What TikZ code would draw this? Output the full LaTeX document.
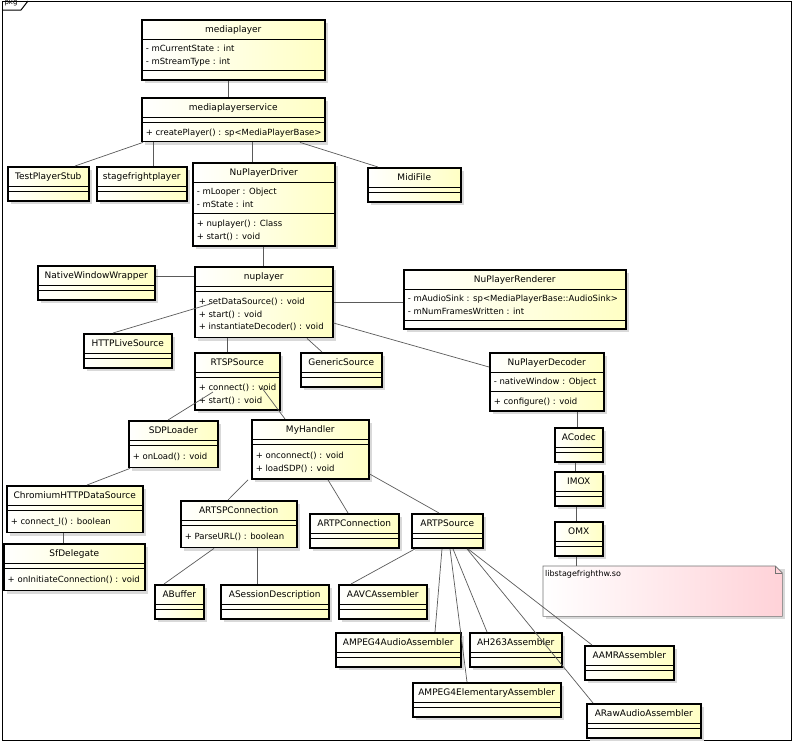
\documentclass[tikz,border=0pt]{standalone}
\usepackage{fontspec}
\setmainfont{DejaVu Sans}
\usepackage{tikz}
\usetikzlibrary{calc,shadows}
\definecolor{clsyellow}{HTML}{FFFFC4}
\definecolor{notepink}{HTML}{FFD2D8}
\definecolor{linkgray}{HTML}{5A5A5A}

% class compartments
\newcommand{\cbox}[2]{\vbox{\hsize=#1pt\offinterlineskip#2}}
\newcommand{\ctitle}[1]{\hbox to\hsize{\hss\fontsize{9}{10}\selectfont\rule[-6pt]{0pt}{19pt}#1\hss}}
\newcommand{\csep}{\hrule height .7pt}
\newcommand{\cgap}[1]{\kern#1pt}
\newcommand{\citem}[1]{\hbox to\hsize{\hspace{4pt}\rule[-3pt]{0pt}{12.5pt}#1\hss}}
\newcommand{\plainclass}[1]{\ctitle{#1}\csep\cgap{5}\csep\cgap{9}}

\begin{document}
\begin{tikzpicture}[
  x=1pt, y=-1pt,
  cls/.style={draw=black, line width=1.5pt, left color=white, right color=clsyellow,
              inner sep=0pt, anchor=north west, font=\fontsize{8.5}{10}\selectfont,
              drop shadow={shadow xshift=3pt, shadow yshift=-3pt, fill=black!15, opacity=1}},
  link/.style={draw=linkgray, line width=.7pt},
  notebox/.style={anchor=north west, minimum width=239pt, minimum height=50pt, inner sep=0pt},
  notetext/.style={anchor=north west, inner sep=1pt, font=\fontsize{8}{10}\selectfont},
  frame/.style={draw=black, line width=1pt}
]
\useasboundingbox (0,0) rectangle (796,742);
% package frame
\draw[frame] (2,1) rectangle (791,740);
\draw[frame] (2,10) -- (21,10) -- (28,1);
\node[inner sep=0pt, font=\fontsize{7}{8}\selectfont] (pkg) at (11,2.5) {pkg};

% classes
\node[cls] (mp) at (141,19) {\cbox{183}{\ctitle{mediaplayer}\csep\cgap{3}\citem{- mCurrentState : int}\citem{- mStreamType : int}\cgap{3}\csep\cgap{9}}};
\node[cls] (mps) at (141,97) {\cbox{183}{\ctitle{mediaplayerservice}\csep\cgap{5}\csep\cgap{3}\citem{+ createPlayer() : sp<MediaPlayerBase>}\cgap{3}}};
\node[cls] (tps) at (7,166) {\cbox{81}{\plainclass{TestPlayerStub}}};
\node[cls] (sfp) at (96,166) {\cbox{90}{\plainclass{stagefrightplayer}}};
\node[cls] (npd) at (192,162) {\cbox{142}{\ctitle{NuPlayerDriver}\csep\cgap{3}\citem{- mLooper : Object}\citem{- mState : int}\cgap{3}\csep\cgap{3}\citem{+ nuplayer() : Class}\citem{+ start() : void}\cgap{4}}};
\node[cls] (midi) at (367,167) {\cbox{93}{\plainclass{MidiFile}}};
\node[cls] (nww) at (37,265) {\cbox{117}{\plainclass{NativeWindowWrapper}}};
\node[cls] (np) at (194,266) {\cbox{138}{\ctitle{nuplayer}\csep\cgap{5}\csep\cgap{3}\citem{+ setDataSource() : void}\citem{+ start() : void}\citem{+ instantiateDecoder() : void}\cgap{5}}};
\node[cls] (npr) at (403,269) {\cbox{222}{\ctitle{NuPlayerRenderer}\csep\cgap{3}\citem{- mAudioSink : sp<MediaPlayerBase::AudioSink>}\citem{- mNumFramesWritten : int}\cgap{3}\csep\cgap{8}}};
\node[cls] (hls) at (83,333) {\cbox{88}{\plainclass{HTTPLiveSource}}};
\node[cls] (rtsp) at (194,352) {\cbox{85}{\ctitle{RTSPSource}\csep\cgap{5}\csep\cgap{3}\citem{+ connect() : void}\citem{+ start() : void}\cgap{4}}};
\node[cls] (gen) at (300,352) {\cbox{81}{\plainclass{GenericSource}}};
\node[cls] (npdec) at (489,352) {\cbox{114}{\ctitle{NuPlayerDecoder}\csep\cgap{3}\citem{- nativeWindow : Object}\cgap{3}\csep\cgap{3}\citem{+ configure() : void}\cgap{4}}};
\node[cls] (acodec) at (554,427) {\cbox{48}{\plainclass{ACodec}}};
\node[cls] (imox) at (554,471) {\cbox{48}{\plainclass{IMOX}}};
\node[cls] (omx) at (554,521) {\cbox{48}{\plainclass{OMX}}};
\node[cls] (sdp) at (128,420) {\cbox{89}{\ctitle{SDPLoader}\csep\cgap{5}\csep\cgap{4}\citem{+ onLoad() : void}\cgap{5}}};
\node[cls] (mh) at (251,419) {\cbox{117}{\ctitle{MyHandler}\csep\cgap{5}\csep\cgap{4}\citem{+ onconnect() : void}\citem{+ loadSDP() : void}\cgap{5}}};
\node[cls] (chr) at (6,485) {\cbox{136}{\ctitle{ChromiumHTTPDataSource}\csep\cgap{5}\csep\cgap{4}\citem{+ connect\_l() : boolean}\cgap{5}}};
\node[cls] (sfd) at (3,543) {\cbox{141}{\ctitle{SfDelegate}\csep\cgap{5}\csep\cgap{4}\citem{+ onInitiateConnection() : void}\cgap{5}}};
\node[cls] (artsp) at (180,500) {\cbox{116}{\ctitle{ARTSPConnection}\csep\cgap{5}\csep\cgap{4}\citem{+ ParseURL() : boolean}\cgap{5}}};
\node[cls] (artpc) at (309,513) {\cbox{89}{\plainclass{ARTPConnection}}};
\node[cls] (artps) at (411,513) {\cbox{71}{\plainclass{ARTPSource}}};
\node[cls] (abuf) at (154,584) {\cbox{49}{\plainclass{ABuffer}}};
\node[cls] (asd) at (220,584) {\cbox{108}{\plainclass{ASessionDescription}}};
\node[cls] (aavc) at (338,584) {\cbox{88}{\plainclass{AAVCAssembler}}};
\node[cls] (ampa) at (335,632) {\cbox{125}{\plainclass{AMPEG4AudioAssembler}}};
\node[cls] (ah263) at (469,632) {\cbox{92}{\plainclass{AH263Assembler}}};
\node[cls] (aamr) at (584,645) {\cbox{89}{\plainclass{AAMRAssembler}}};
\node[cls] (ampe) at (412,682) {\cbox{148}{\plainclass{AMPEG4ElementaryAssembler}}};
\node[cls] (araw) at (586,703) {\cbox{114}{\plainclass{ARawAudioAssembler}}};

% note
\node[notebox] (note) at (543,566) {};
\fill[black!15] ($(note.north west)+(3,3)$) rectangle ($(note.south east)+(3,3)$);
\shadedraw[left color=white, right color=notepink, draw=black!55, line width=.6pt]
  (note.north west) -- ($(note.north east)+(-7,0)$) -- ($(note.north east)+(0,7)$)
  -- (note.south east) -- (note.south west) -- cycle;
\draw[draw=black!55, line width=.6pt] ($(note.north east)+(-7,0)$) |- ($(note.north east)+(0,7)$);
\node[notetext] (note-t) at ($(note.north west)+(1,3)$) {libstagefrighthw.so};

% links
\draw[link] ($(mp.south)+(-5,0)$) -- ($(mps.north)+(-5,0)$);
\draw[link] ($(mps.south west)+(2,0)$) -- ($(tps.north west)+(68,0)$);
\draw[link] ($(mps.south west)+(12,0)$) -- ($(sfp.north west)+(57,0)$);
\draw[link] ($(mps.south west)+(111,0)$) -- ($(npd.north west)+(60,0)$);
\draw[link] ($(mps.south west)+(159,0)$) -- ($(midi.north west)+(11,0)$);
\draw[link] ($(npd.south west)+(71,0)$) -- ($(np.north west)+(69,0)$);
\draw[link] ($(nww.north east)+(0,11)$) -- ($(np.north west)+(0,10)$);
\draw[link] ($(np.north west)+(16,38)$) -- ($(hls.north west)+(30,0)$);
\draw[link] ($(np.south west)+(33,0)$) -- ($(rtsp.north west)+(33,0)$);
\draw[link] ($(np.south west)+(113,0)$) -- ($(gen.north west)+(22,0)$);
\draw[link] ($(np.north east)+(0,36)$) -- ($(npr.north west)+(0,33)$);
\draw[link] ($(np.north east)+(0,57)$) -- ($(npdec.north west)+(0,15)$);
\draw[link] ($(rtsp.north west)+(19,40)$) -- ($(sdp.north west)+(40,0)$);
\draw[link] ($(rtsp.north west)+(68,36)$) -- ($(mh.north west)+(34,0)$);
\draw[link] ($(sdp.south west)+(2,0)$) -- ($(chr.north west)+(81,0)$);
\draw[link] ($(chr.south west)+(57,0)$) -- ($(sfd.north west)+(60,0)$);
\draw[link] ($(mh.south west)+(-3,0)$) -- ($(artsp.north west)+(48,0)$);
\draw[link] ($(mh.south west)+(77,0)$) -- ($(artpc.north west)+(39,0)$);
\draw[link] ($(mh.south east)+(0,-6)$) -- ($(artps.north west)+(28,0)$);
\draw[link] ($(artsp.south west)+(34,0)$) -- ($(abuf.north west)+(10,0)$);
\draw[link] ($(artsp.south west)+(77,0)$) -- ($(asd.north west)+(37,0)$);
\draw[link] ($(artps.south west)+(4,0)$) -- ($(aavc.north west)+(13,0)$);
\draw[link] ($(artps.south west)+(31,0)$) -- ($(ampa.north west)+(100,0)$);
\draw[link] ($(artps.south west)+(39,0)$) -- ($(ampe.north west)+(55,0)$);
\draw[link] ($(artps.south west)+(42,0)$) -- ($(ah263.north west)+(18,0)$);
\draw[link] ($(artps.south west)+(56,0)$) -- ($(araw.north west)+(7,0)$);
\draw[link] ($(artps.south west)+(57,0)$) -- ($(aamr.north west)+(8,0)$);
\draw[link] ($(npdec.south west)+(88,0)$) -- ($(acodec.north west)+(23,0)$);
\draw[link] ($(acodec.south west)+(21,0)$) -- ($(imox.north west)+(21,0)$);
\draw[link] ($(imox.south west)+(22,0)$) -- ($(omx.north west)+(22,0)$);
\draw[link] ($(omx.south west)+(22,0)$) -- ($(note.north west)+(33,0)$);
\end{tikzpicture}
\end{document}
